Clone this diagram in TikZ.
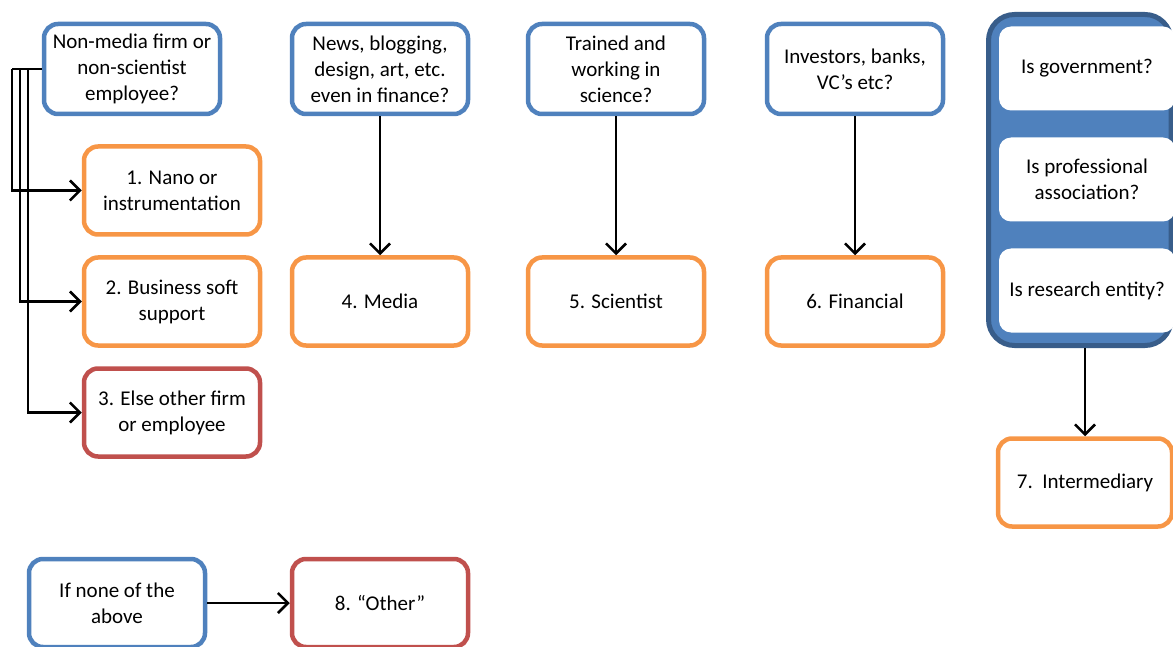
\documentclass[tikz,border=0pt]{standalone}
\usepackage{fontspec}
\setmainfont{Carlito}
\usetikzlibrary{arrows.meta}
\definecolor{qblue}{HTML}{4F81BD}
\definecolor{qdark}{HTML}{385D8A}
\definecolor{qorange}{HTML}{F79646}
\definecolor{qred}{HTML}{C0504D}
\tikzset{
  box/.style={rounded corners=14pt, line width=4.5pt, fill=white, minimum width=176pt, minimum height=88pt, align=center, inner sep=2pt, font=\fontsize{21pt}{26pt}\selectfont},
  qbox/.style={box, draw=qblue, minimum height=90pt},
  obox/.style={box, draw=qorange},
  rbox/.style={box, draw=qred},
  inbox/.style={rounded corners=12pt, fill=white, draw=none, minimum width=176pt, minimum height=84pt, align=center, font=\fontsize{21pt}{26pt}\selectfont},
  conn/.style={line width=2.5pt, -{Straight Barb[length=10pt,width=20pt,line width=2.5pt]}},
  plain/.style={line width=2.5pt}
}
\begin{document}
\begin{tikzpicture}[x=1pt,y=-1pt]
\useasboundingbox (0,0) rectangle (1173,647);
\clip (0,0) rectangle (1173,647);
% left column
\node[qbox] (A) at (132,69) {\raisebox{-2pt}{\parbox{170pt}{\centering Non-media firm or\\non-scientist\\employee?}}};
\node[obox] (B1) at (172,190.5) {1. Nano or\\instrumentation};
\node[obox] (B2) at (172,301.5) {2. Business soft\\support};
\node[rbox] (B3) at (172,412.5) {3. Else other firm\\or employee};
% media
\node[qbox] (N) at (380,69) {\raisebox{-2pt}{\parbox{170pt}{\centering News, blogging,\\design, art, etc.\\even in finance?}}};
\node[obox] (M) at (380,301.5) {4. Media};
% scientist
\node[qbox] (T) at (616,69) {\raisebox{-2pt}{\parbox{170pt}{\centering Trained and\\working in\\science?}}};
\node[obox] (S) at (616,301.5) {5. Scientist};
% financial
\node[qbox] (I) at (855,69) {Investors, banks,\\VC’s etc?};
\node[obox] (F) at (855,301.5) {6. Financial};
% intermediary container
\draw[qdark, fill=qblue, line width=5pt, rounded corners=26pt] (988.5,14.5) rectangle (1171,345.5);
\coordinate (Cbot) at (1085,348);
\node[inbox] (G1) at (1087,68.5) {Is government?};
\node[inbox] (G2) at (1087,179.5) {Is professional\\association?};
\node[inbox] (G3) at (1087,290.5) {Is research entity?};
\node[obox, minimum width=174pt] (Int) at (1085,482.5) {7.\ \ Intermediary};
% none
\node[qbox, minimum height=88pt] (NA) at (117,603) {If none of the\\above};
\node[rbox] (O) at (380,603) {8. “Other”};
% connectors
\coordinate (j0) at (12,69);
\draw[plain] (A.west |- 0,69) -- (j0);
\draw[conn] (j0) |- (B1.west);
\draw[conn] (20,69) |- (B2.west);
\draw[conn] (28,69) |- (B3.west);
\draw[conn] (N.south) -- (M.north);
\draw[conn] (T.south) -- (S.north);
\draw[conn] (I.south) -- (F.north);
\draw[conn] (Cbot) -- (Int.north);
\draw[conn] (NA.east) -- (O.west);
\end{tikzpicture}
\end{document}
